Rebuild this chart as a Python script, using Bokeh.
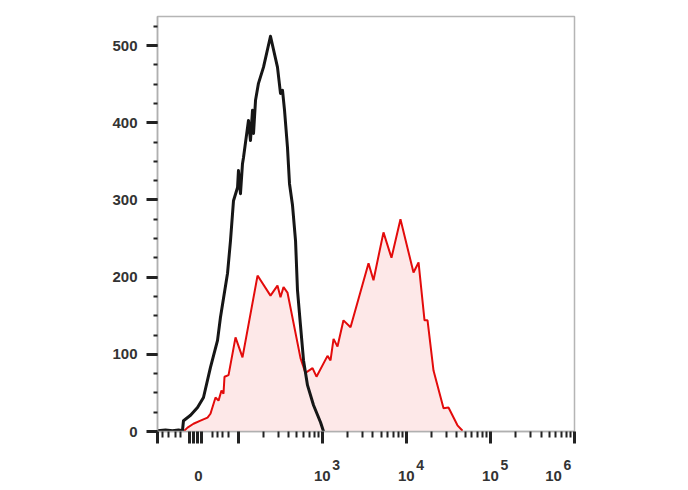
from bokeh.plotting import figure
from bokeh.models import Range1d, FixedTicker
from bokeh.layouts import column
from bokeh.core.properties import value
from bokeh.embed import file_html
from bokeh.resources import INLINE
import math

# x in display decades (log10 of fluorescence on a biexponential axis), y = counts
black_x = [1.04, 1.135, 1.218, 1.29, 1.337, 1.349, 1.433, 1.516, 1.587, 1.67, 1.754, 1.789,
           1.873, 1.908, 1.944, 1.992, 2.003, 2.027, 2.051, 2.063, 2.111, 2.122, 2.146, 2.170,
           2.182, 2.206, 2.241, 2.301, 2.384, 2.467, 2.503, 2.527, 2.551, 2.586, 2.610, 2.646,
           2.682, 2.705, 2.741, 2.777, 2.824, 2.896, 2.979, 3.015]
black_y = [1, 2, 1, 2, 1, 14, 21, 31, 44, 83, 118, 148,
           205, 247, 299, 316, 338, 308, 347, 355, 394, 403, 377, 416,
           386, 429, 451, 472, 512, 472, 438, 442, 416, 368, 321, 293,
           247, 183, 137, 92, 60, 34, 12, 0]

red_x = [1.349, 1.397, 1.468, 1.551, 1.635, 1.670, 1.730, 1.766, 1.801, 1.825, 1.837, 1.885,
         1.968, 2.051, 2.230, 2.384, 2.467, 2.503, 2.539, 2.586, 2.741, 2.800, 2.884, 2.931,
         3.062, 3.098, 3.134, 3.181, 3.252, 3.336, 3.550, 3.609, 3.728, 3.823, 3.930, 4.085,
         4.145, 4.216, 4.252, 4.323, 4.442, 4.501, 4.608, 4.668]
red_y = [0, 5, 10, 14, 18, 23, 44, 40, 53, 49, 71, 73,
         122, 96, 202, 176, 189, 174, 187, 180, 95, 76, 82, 71,
         98, 92, 120, 110, 144, 135, 218, 196, 258, 225, 275, 206,
         219, 144, 144, 79, 30, 31, 8, 1]

y_ticks = [0, 100, 200, 300, 400, 500]
x_label_pos = [1.528, 3, 4, 5, 5.75]
x_label_base = ["0", "10", "10", "10", "10"]
x_label_exp = ["", "3", "4", "5", "6"]

FONT = "Liberation Sans"

p = figure(frame_width=417, frame_height=415, output_backend="svg", toolbar_location=None,
           x_range=Range1d(1.04, 6.0), y_range=Range1d(0, 537.6),
           min_border_left=157, min_border_right=106, min_border_top=16, min_border_bottom=26)
p.background_fill_color = "white"
p.border_fill_color = "white"
p.outline_line_color = "#b5b5b5"
p.outline_line_width = 1.5
p.xgrid.visible = False
p.ygrid.visible = False

p.varea(x=red_x, y1=[0] * len(red_x), y2=red_y, fill_color="#fde8e8")
p.line(red_x, red_y, line_color="#e30b0b", line_width=2)
p.line(black_x, black_y, line_color="#161616", line_width=3, line_join="round")

# y axis
ya = p.yaxis[0]
ya.ticker = FixedTicker(ticks=y_ticks, minor_ticks=[25 * i for i in range(22)])
ya.axis_line_color = "#b0b0b0"
ya.axis_line_width = 1.5
ya.major_tick_line_color = "#222222"
ya.major_tick_line_width = 3
ya.major_tick_out = 11
ya.major_tick_in = 0
ya.minor_tick_line_color = "#222222"
ya.minor_tick_line_width = 2
ya.minor_tick_out = 4
ya.minor_tick_in = 0
ya.major_label_text_font = FONT
ya.major_label_text_font_style = "bold"
ya.major_label_text_font_size = "15px"
ya.major_label_text_color = "#333333"
ya.major_label_standoff = 9

# x axis (biexponential-style ticks); its labels are drawn in the strip below
xa = p.xaxis[0]
major_x = [1.045, 1.421, 1.468, 1.516, 1.563, 2, 3, 4, 5, 6]
minor_x = [1.099, 1.171, 1.254, 1.314, 1.694, 1.754, 1.813, 1.884]
for n in range(2, 6):
    for k in range(2, 10):
        minor_x.append(n + math.log10(k))
xa.ticker = FixedTicker(ticks=major_x, minor_ticks=minor_x)
xa.axis_line_color = "#b0b0b0"
xa.axis_line_width = 1.5
xa.major_tick_line_color = "#222222"
xa.major_tick_line_width = 3
xa.major_tick_out = 12
xa.major_tick_in = 0
xa.minor_tick_line_color = "#222222"
xa.minor_tick_line_width = 2
xa.minor_tick_out = 6
xa.minor_tick_in = 0
xa.major_label_overrides = {t: "" for t in major_x}
xa.major_label_text_font_size = "8px"
xa.major_label_standoff = 0

# strip with the x tick labels (shares the x scale)
p2 = figure(frame_width=417, frame_height=30, output_backend="svg", toolbar_location=None,
            x_range=p.x_range, y_range=Range1d(0, 30),
            x_axis_location=None, y_axis_location=None,
            min_border_left=157, min_border_right=106, min_border_top=0, min_border_bottom=0)
p2.outline_line_color = None
p2.xgrid.visible = False
p2.ygrid.visible = False
p2.text(x=x_label_pos, y=[12] * len(x_label_pos), text=x_label_base,
        text_align="center", text_baseline="middle", text_font=value(FONT),
        text_font_style="bold", text_font_size="15px", text_color="#333333")
p2.text(x=x_label_pos, y=[23] * len(x_label_pos), text=x_label_exp, x_offset=10,
        text_align="left", text_baseline="middle", text_font=value(FONT),
        text_font_style="bold", text_font_size="14px", text_color="#333333")

layout = column(p, p2, spacing=0)
open("out.html", "w").write(file_html(layout, INLINE))
